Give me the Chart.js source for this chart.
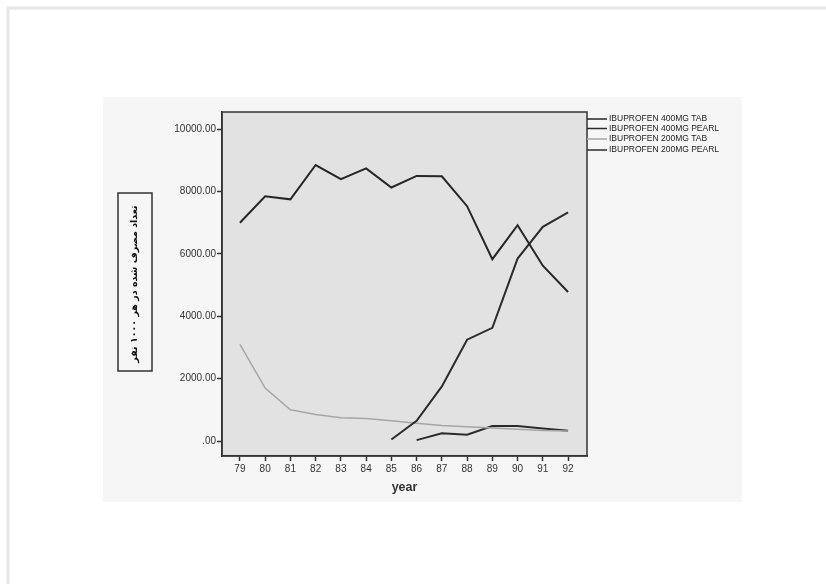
<!DOCTYPE html>
<html>
<head>
<meta charset="utf-8">
<script src="https://cdn.jsdelivr.net/npm/chart.js@4/dist/chart.umd.min.js"></script>
<style>
  html, body { margin: 0; padding: 0; background: #fff; }
  #wrap { width: 826px; height: 584px; }
</style>
</head>
<body>
<div id="wrap"><canvas id="myChart"></canvas></div>
<script>
// years on x axis (19xx)
const years = [79, 80, 81, 82, 83, 84, 85, 86, 87, 88, 89, 90, 91, 92];
const seriesNames = ['IBUPROFEN 400MG TAB', 'IBUPROFEN 400MG PEARL', 'IBUPROFEN 200MG TAB', 'IBUPROFEN 200MG PEARL'];
const tab400 = [7000, 7850, 7750, 8850, 8400, 8740, 8130, 8500, 8490, 7530, 5830, 6920, 5620, 4780];
const pearl400 = [null, null, null, null, null, null, 50, 650, 1750, 3250, 3630, 5850, 6870, 7330];
const tab200 = [3100, 1700, 1000, 850, 750, 720, 650, 570, 500, 460, 420, 375, 340, 320];
const pearl200 = [null, null, null, null, null, null, null, 30, 250, 200, 480, 480, 400, 330];
const yTicks = [0, 2000, 4000, 6000, 8000, 10000];
const yTitle = 'تعداد مصرف شده در هر ۱۰۰۰ نفر';
const xTitle = 'year';

const lineColors = ['#262626', '#2b2b2b', '#a6a6a6', '#2b2b2b'];
const lineWidths = [2, 2, 1.5, 2];

function toPoints(vals) {
  return years.map((y, i) => ({ x: y, y: vals[i] }));
}

const allSeries = [tab400, pearl400, tab200, pearl200];

// background: paper, scan area, plot area
const paperPlugin = {
  id: 'paper',
  beforeDraw(chart) {
    const c = chart.ctx, a = chart.chartArea;
    c.save();
    c.fillStyle = '#fff';
    c.fillRect(0, 0, chart.width, chart.height);
    c.strokeStyle = '#e6e6e6';
    c.lineWidth = 3;
    c.beginPath();
    c.moveTo(8, chart.height);
    c.lineTo(8, 8);
    c.lineTo(chart.width, 8);
    c.stroke();
    c.fillStyle = '#f6f6f6';
    c.fillRect(103, 97, 639, 405);
    c.fillStyle = '#e2e2e2';
    c.fillRect(a.left, a.top, a.right - a.left, a.bottom - a.top);
    c.restore();
  },
  afterDraw(chart) {
    const c = chart.ctx, a = chart.chartArea;
    c.save();
    // plot frame
    c.strokeStyle = '#333';
    c.lineWidth = 1.5;
    c.strokeRect(a.left, a.top, a.right - a.left, a.bottom - a.top);

    // legend with bracket lines off the right edge
    c.font = '8.5px "Liberation Sans", Arial, sans-serif';
    c.textBaseline = 'middle';
    c.textAlign = 'left';
    const ys = [119, 128.5, 139, 150];
    chart.data.datasets.forEach((ds, i) => {
      c.strokeStyle = ds.borderColor;
      c.lineWidth = 1.5;
      c.beginPath();
      c.moveTo(a.right, ys[i]);
      c.lineTo(a.right + 20, ys[i]);
      c.stroke();
      c.fillStyle = '#222';
      c.fillText(ds.label, a.right + 22, ys[i]);
    });

    // box around the y title
    const ys2 = chart.scales.y;
    const cx = ys2.left + 10 * 1.2 / 2 + 29;
    const cy = (ys2.top + ys2.bottom) / 2 - 2;
    c.strokeStyle = '#333';
    c.lineWidth = 1.5;
    c.strokeRect(cx - 17, cy - 89, 34, 178);
    c.restore();
  }
};

new Chart(document.getElementById('myChart'), {
  type: 'line',
  data: {
    datasets: allSeries.map((vals, i) => ({
      label: seriesNames[i],
      data: toPoints(vals),
      borderColor: lineColors[i],
      borderWidth: lineWidths[i],
      pointRadius: 0,
      tension: 0,
      spanGaps: false,
      fill: false
    }))
  },
  options: {
    responsive: true,
    maintainAspectRatio: false,
    devicePixelRatio: 1,
    animation: false,
    layout: { padding: { left: 100, right: 239, top: 112, bottom: 68 } },
    plugins: {
      legend: { display: false },
      tooltip: { enabled: false }
    },
    scales: {
      x: {
        type: 'linear',
        min: 78.29,
        max: 92.75,
        afterFit(scale) { scale.height = 60; },
        afterBuildTicks(scale) { scale.ticks = years.map(v => ({ value: v })); },
        grid: { drawOnChartArea: false, tickLength: 5, tickColor: '#333', tickWidth: 1.5 },
        border: { display: true, color: '#333', width: 1.5 },
        ticks: {
          autoSkip: false,
          maxRotation: 0,
          padding: 2,
          color: '#333',
          font: { family: '"Liberation Sans", Arial, sans-serif', size: 10 },
          callback: v => String(v)
        },
        title: {
          display: true,
          text: xTitle,
          color: '#333',
          font: { family: '"Liberation Sans", Arial, sans-serif', size: 12.5, weight: 'bold' },
          padding: { top: 4, bottom: 21 }
        }
      },
      y: {
        min: -480,
        max: 10550,
        afterFit(scale) { scale.width = 122; },
        afterBuildTicks(scale) { scale.ticks = yTicks.map(v => ({ value: v })); },
        grid: { drawOnChartArea: false, tickLength: 5, tickColor: '#333', tickWidth: 1.5 },
        border: { display: true, color: '#333', width: 1.5 },
        ticks: {
          padding: 1,
          color: '#333',
          font: { family: '"Liberation Sans", Arial, sans-serif', size: 10 },
          callback: v => (v === 0 ? '.00' : v.toFixed(2))
        },
        title: {
          display: true,
          text: yTitle,
          color: '#111',
          font: { family: '"DejaVu Sans", sans-serif', size: 9.5, weight: 'bold' },
          padding: { top: 29, bottom: 0 }
        }
      }
    }
  },
  plugins: [paperPlugin]
});
</script>
</body>
</html>
